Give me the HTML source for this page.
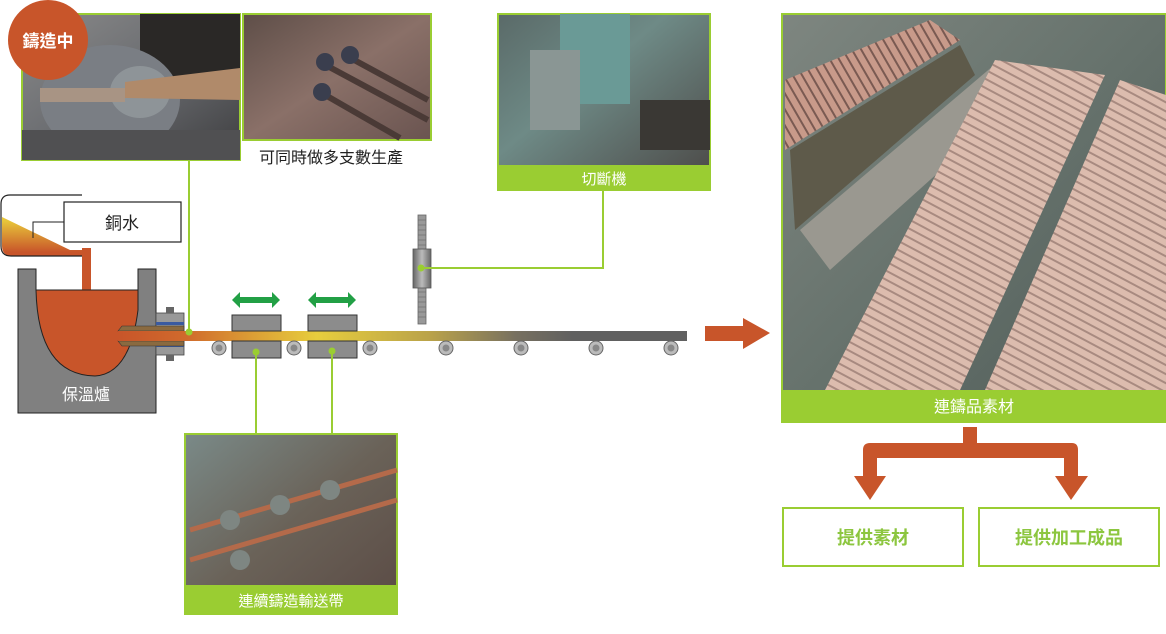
<!DOCTYPE html>
<html><head><meta charset="utf-8"><style>
html,body{margin:0;padding:0;background:#fff;}
svg{display:block;}
text{font-family:"Liberation Sans","Noto Sans CJK TC",sans-serif;}
</style></head><body>
<svg width="1166" height="634" viewBox="0 0 1166 634" xmlns="http://www.w3.org/2000/svg">
<defs>
<linearGradient id="strand" x1="118" x2="687" gradientUnits="userSpaceOnUse">
<stop offset="0" stop-color="#c8552a"/><stop offset="0.12" stop-color="#d06a2c"/>
<stop offset="0.25" stop-color="#dda436"/><stop offset="0.35" stop-color="#e7cd3d"/>
<stop offset="0.55" stop-color="#b9a24a"/><stop offset="0.7" stop-color="#777060"/>
<stop offset="0.8" stop-color="#606060"/><stop offset="1" stop-color="#606060"/></linearGradient>
<linearGradient id="ladle" x1="0" y1="0" x2="0" y2="1">
<stop offset="0.1" stop-color="#e8c63a"/><stop offset="0.9" stop-color="#c8552a"/></linearGradient>
<linearGradient id="cyl" x1="0" x2="1"><stop offset="0" stop-color="#666"/><stop offset="0.5" stop-color="#bbb"/><stop offset="1" stop-color="#666"/></linearGradient>
<linearGradient id="p1" x1="0" y1="0" x2="1" y2="1"><stop offset="0" stop-color="#8a8a8a"/><stop offset="0.5" stop-color="#6a6c70"/><stop offset="1" stop-color="#3e3e40"/></linearGradient>
<linearGradient id="p2" x1="0" y1="0" x2="1" y2="1"><stop offset="0" stop-color="#5e4e48"/><stop offset="0.5" stop-color="#8a7068"/><stop offset="1" stop-color="#6a5450"/></linearGradient>
<linearGradient id="p3" x1="0" y1="0" x2="1" y2="1"><stop offset="0" stop-color="#5a6a68"/><stop offset="0.4" stop-color="#6e8a86"/><stop offset="1" stop-color="#4a4644"/></linearGradient>
<linearGradient id="p4" x1="0" y1="0" x2="1" y2="1"><stop offset="0" stop-color="#7e8680"/><stop offset="0.5" stop-color="#66726c"/><stop offset="1" stop-color="#4e5a56"/></linearGradient>
<linearGradient id="p5" x1="0" y1="0" x2="1" y2="1"><stop offset="0" stop-color="#7a8a88"/><stop offset="0.5" stop-color="#6a6258"/><stop offset="1" stop-color="#5a4a44"/></linearGradient>
<pattern id="rods" width="8" height="8" patternUnits="userSpaceOnUse" patternTransform="rotate(-62)">
<rect width="8" height="8" fill="#dcbcae"/><rect width="2" height="8" fill="#a88a80"/></pattern>
<pattern id="rods2" width="8" height="8" patternUnits="userSpaceOnUse" patternTransform="rotate(-30)">
<rect width="8" height="8" fill="#c89a8a"/><rect width="2" height="8" fill="#7a5a52"/></pattern>
</defs>

<!-- Photo 1 -->
<rect x="22" y="14" width="218" height="146" fill="url(#p1)" stroke="#9acd32" stroke-width="2"/>
<rect x="140" y="14" width="100" height="70" fill="#2a2826"/>
<ellipse cx="110" cy="100" rx="70" ry="55" fill="#7a7e84"/>
<ellipse cx="140" cy="92" rx="30" ry="26" fill="#8e9498"/>
<polygon points="125,82 240,68 240,100 125,98" fill="#b08a6a"/>
<rect x="40" y="88" width="85" height="14" fill="#a89484"/>
<rect x="22" y="130" width="218" height="30" fill="#505052"/>
<circle cx="48" cy="40" r="40" fill="#c8552a"/>
<text x="48" y="47" font-size="17" font-weight="bold" fill="#fff" text-anchor="middle">鑄造中</text>

<!-- Photo 2 -->
<rect x="243" y="14" width="188" height="126" fill="url(#p2)" stroke="#9acd32" stroke-width="2"/>
<g stroke="#4a3a36" stroke-width="6"><line x1="320" y1="62" x2="428" y2="120"/><line x1="345" y1="55" x2="428" y2="100"/><line x1="320" y1="92" x2="400" y2="138"/></g>
<g fill="#3a3e4e"><circle cx="325" cy="62" r="9"/><circle cx="350" cy="55" r="9"/><circle cx="322" cy="92" r="9"/></g>
<text x="331" y="163" font-size="16" fill="#222" text-anchor="middle">可同時做多支數生產</text>

<!-- Cutter photo -->
<rect x="498" y="14" width="212" height="176" fill="url(#p3)" stroke="#9acd32" stroke-width="2"/>
<rect x="560" y="14" width="70" height="90" fill="#6a9a96"/>
<rect x="530" y="50" width="50" height="80" fill="#8a9694"/>
<rect x="640" y="100" width="70" height="50" fill="#3a3834"/>
<rect x="498" y="165" width="212" height="25" fill="#9acd32"/>
<text x="604" y="184" font-size="15" fill="#fff" text-anchor="middle">切斷機</text>

<!-- Big photo -->
<rect x="782" y="14" width="384" height="408" fill="url(#p4)" stroke="#9acd32" stroke-width="2"/>
<polygon points="785,80 930,20 960,40 785,150" fill="url(#rods2)"/>
<polygon points="790,150 960,45 975,75 795,230" fill="#5e5a4a"/>
<polygon points="800,230 1000,60 1030,90 830,270" fill="#9a9890"/>
<polygon points="825,390 995,60 1105,75 960,390" fill="url(#rods)"/>
<polygon points="985,390 1120,80 1166,95 1166,390" fill="url(#rods)"/>
<rect x="782" y="390" width="384" height="32" fill="#9acd32"/>
<text x="974" y="412" font-size="16" fill="#fff" text-anchor="middle">連鑄品素材</text>

<!-- Bottom photo -->
<rect x="185" y="434" width="212" height="180" fill="url(#p5)" stroke="#9acd32" stroke-width="2"/>
<g stroke="#b46a4a" stroke-width="5"><line x1="190" y1="530" x2="397" y2="470"/><line x1="190" y1="560" x2="397" y2="500"/></g>
<g fill="#7e8682"><circle cx="230" cy="520" r="10"/><circle cx="280" cy="505" r="10"/><circle cx="330" cy="490" r="10"/><circle cx="240" cy="560" r="10"/></g>
<rect x="185" y="585" width="212" height="29" fill="#9acd32"/>
<text x="291" y="606" font-size="15" fill="#fff" text-anchor="middle">連續鑄造輸送帶</text>

<!-- Ladle -->
<path d="M2,217 L70,250 L82,250 L82,256 L12,256 Q2,256 2,246 Z" fill="url(#ladle)"/>
<path d="M82,195 L10,195 Q1,195 1,204 L1,246 Q1,256 11,256 L82,256" fill="none" stroke="#222" stroke-width="1.2"/>
<rect x="82" y="248" width="9" height="45" fill="#c8552a"/>
<polyline points="33,238 33,222 64,222" fill="none" stroke="#222" stroke-width="1"/>
<rect x="64" y="202" width="117" height="40" fill="#fff" stroke="#222" stroke-width="1.2"/>
<text x="122" y="229" font-size="17" fill="#222" text-anchor="middle">銅水</text>

<!-- Furnace -->
<path d="M18,269 L36,269 L36,290 L138,290 L138,269 L156,269 L156,413 L18,413 Z" fill="#808080" stroke="#222" stroke-width="1"/>
<path d="M36,290 Q38,375 95,376 Q130,374 138,310 L138,290 Z" fill="#c8552a" stroke="#222" stroke-width="1"/>
<text x="86" y="400" font-size="16" fill="#fff" text-anchor="middle">保溫爐</text>
<!-- die -->
<rect x="156" y="313" width="28" height="42" fill="#999" stroke="#444" stroke-width="0.8"/>
<rect x="156" y="322" width="28" height="3" fill="#3a5aa0"/><rect x="156" y="344" width="28" height="3" fill="#3a5aa0"/>
<rect x="166" y="307" width="8" height="6" fill="#666"/><rect x="166" y="355" width="8" height="6" fill="#666"/>
<polygon points="118,331 122,326 184,326 184,331" fill="#8a6a40" stroke="#333" stroke-width="0.6"/>
<polygon points="118,341 122,346 184,346 184,341" fill="#8a6a40" stroke="#333" stroke-width="0.6"/>

<!-- strand -->
<rect x="118" y="331" width="569" height="10" fill="url(#strand)"/>

<!-- rollers -->
<g fill="#bbb" stroke="#666" stroke-width="1">
<circle cx="219" cy="348" r="7"/><circle cx="294" cy="348" r="7"/><circle cx="370" cy="348" r="7"/><circle cx="446" cy="348" r="7"/><circle cx="521" cy="348" r="7"/><circle cx="596" cy="348" r="7"/><circle cx="671" cy="348" r="7"/></g>
<g fill="#888"><circle cx="219" cy="348" r="3.5"/><circle cx="294" cy="348" r="3.5"/><circle cx="370" cy="348" r="3.5"/><circle cx="446" cy="348" r="3.5"/><circle cx="521" cy="348" r="3.5"/><circle cx="596" cy="348" r="3.5"/><circle cx="671" cy="348" r="3.5"/></g>

<!-- blocks -->
<g fill="#8c8c8c" stroke="#333" stroke-width="1">
<rect x="232" y="315" width="49" height="16"/><rect x="232" y="341" width="49" height="17"/>
<rect x="308" y="315" width="49" height="16"/><rect x="308" y="341" width="49" height="17"/></g>
<g fill="#22a045">
<polygon points="232,300 240,292 240,297 272,297 272,292 280,300 272,308 272,303 240,303 240,308"/>
<polygon points="308,300 316,292 316,297 348,297 348,292 356,300 348,308 348,303 316,303 316,308"/></g>

<!-- cutter -->
<rect x="418" y="215" width="8" height="109" fill="#999" stroke="#666" stroke-width="0.8"/>
<g stroke="#666" stroke-width="0.6"><line x1="418" y1="220" x2="426" y2="220"/><line x1="418" y1="225" x2="426" y2="225"/><line x1="418" y1="230" x2="426" y2="230"/><line x1="418" y1="235" x2="426" y2="235"/><line x1="418" y1="240" x2="426" y2="240"/><line x1="418" y1="245" x2="426" y2="245"/><line x1="418" y1="292" x2="426" y2="292"/><line x1="418" y1="297" x2="426" y2="297"/><line x1="418" y1="302" x2="426" y2="302"/><line x1="418" y1="307" x2="426" y2="307"/><line x1="418" y1="312" x2="426" y2="312"/><line x1="418" y1="317" x2="426" y2="317"/></g>
<rect x="413" y="249" width="18" height="39" fill="url(#cyl)" stroke="#555" stroke-width="0.8"/>

<!-- green leader lines -->
<g stroke="#9acd32" stroke-width="2" fill="none">
<line x1="189" y1="160" x2="189" y2="332"/>
<line x1="256" y1="352" x2="256" y2="434"/>
<line x1="332" y1="351" x2="332" y2="434"/>
<polyline points="421,268 603,268 603,190"/></g>
<g fill="#9acd32"><circle cx="189" cy="332" r="3.5"/><circle cx="256" cy="352" r="3.5"/><circle cx="332" cy="351" r="3.5"/><circle cx="421" cy="268" r="3.5"/></g>

<!-- orange arrow right -->
<polygon points="705,326 743,326 743,318 770,333 743,349 743,341 705,341" fill="#c8552a"/>

<!-- split arrows -->
<g fill="#c8552a">
<rect x="963" y="427" width="14" height="18"/>
<path d="M863,443 L1072,443 Q1078,443 1078,450 L1078,476 L1064,476 L1064,458 L877,458 L877,476 L863,476 L863,450 Q863,443 870,443 Z"/>
<polygon points="854,476 886,476 870,500"/>
<polygon points="1055,476 1088,476 1071,500"/></g>

<rect x="783" y="508" width="180" height="58" fill="#fff" stroke="#9acd32" stroke-width="2"/>
<rect x="979" y="508" width="180" height="58" fill="#fff" stroke="#9acd32" stroke-width="2"/>
<text x="873" y="544" font-size="18" font-weight="bold" fill="#8cc63f" text-anchor="middle">提供素材</text>
<text x="1069" y="544" font-size="18" font-weight="bold" fill="#8cc63f" text-anchor="middle">提供加工成品</text>
</svg>
</body></html>
